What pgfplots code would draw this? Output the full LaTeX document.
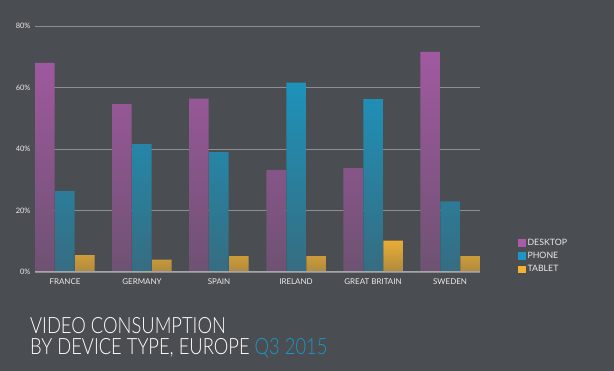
\documentclass[border=0pt]{standalone}
\usepackage{pgfplots}
\pgfplotsset{compat=1.18}
\usepackage{fontspec}
\setmainfont{Lato}
\newfontfamily\titlefont{Lato Light}
\definecolor{bg}{HTML}{4A4D51}
\definecolor{desk}{HTML}{A95AA8}
\definecolor{phone}{HTML}{1A98C3}
\definecolor{tab}{HTML}{F2B233}
\definecolor{gridc}{HTML}{8C8F92}
\definecolor{txt}{HTML}{ECECEC}
\begin{document}
\begin{tikzpicture}
\fill[bg] (0,0) rectangle (614bp,371bp);
\useasboundingbox (0,0) rectangle (614bp,371bp);
\begin{axis}[
  at={(35bp,99bp)}, anchor=south west,
  scale only axis, width=445bp, height=246bp,
  xmin=-0.389, xmax=5.389, ymin=0, ymax=80,
  xtick={0,1,2,3,4,5},
  xticklabels={FRANCE,GERMANY,SPAIN,IRELAND,GREAT BRITAIN,SWEDEN},
  ytick={0,20,40,60,80},
  yticklabel={\pgfmathprintnumber{\tick}\%},
  /pgf/number format/assume math mode=true,
  ymajorgrids, grid style={gridc, line width=0.7bp},
  axis line style={draw=none},
  tick style={draw=none},
  x tick label style={font=\fontsize{8}{9}\selectfont, text=txt, yshift=-3bp},
  y tick label style={font=\fontsize{7.5}{9}\selectfont, text=txt, xshift=-1bp},
  legend style={draw=none, fill=none, text=txt, font=\fontsize{8.8}{10}\selectfont,
    at={(1.085,0.065)}, anchor=west, row sep=1.5bp, inner sep=0pt},
  legend cell align=left,
  legend image code/.code={\fill[draw=none,#1] (0bp,-3.8bp) rectangle (7.5bp,3.8bp);},
]
\addplot[ybar, bar width=19.5bp, bar shift=-20bp, draw=none, top color=desk!92!bg, bottom color=desk!38!bg, forget plot]
  coordinates {(0,68.0) (1,54.6) (2,56.4) (3,33.2) (4,33.8) (5,71.6)};
\addplot[ybar, bar width=19.5bp, bar shift=0bp, draw=none, top color=phone!92!bg, bottom color=phone!42!bg, forget plot]
  coordinates {(0,26.3) (1,41.6) (2,39.0) (3,61.6) (4,56.2) (5,23.0)};
\addplot[ybar, bar width=19.5bp, bar shift=20bp, draw=none, top color=tab!95!bg, bottom color=tab!60!bg, forget plot]
  coordinates {(0,5.5) (1,4.0) (2,5.2) (3,5.2) (4,10.2) (5,5.2)};
\draw[gridc!80!white, line width=1.2bp] (rel axis cs:0,0) -- (rel axis cs:1,0);
\addlegendimage{fill=desk, draw=none}
\addlegendentry{DESKTOP}
\addlegendimage{fill=phone, draw=none}
\addlegendentry{PHONE}
\addlegendimage{fill=tab, draw=none}
\addlegendentry{TABLET}
\end{axis}
\node[anchor=base west, inner sep=0pt, xscale=0.82, text=white, font=\titlefont\fontsize{22.5}{22.5}\selectfont] at (30bp,38bp) {VIDEO CONSUMPTION};
\node[anchor=base west, inner sep=0pt, xscale=0.82, text=white, font=\titlefont\fontsize{22.5}{22.5}\selectfont] at (30bp,16.5bp) {BY DEVICE TYPE, EUROPE \textcolor{phone}{Q3 2015}};
\end{tikzpicture}
\end{document}
